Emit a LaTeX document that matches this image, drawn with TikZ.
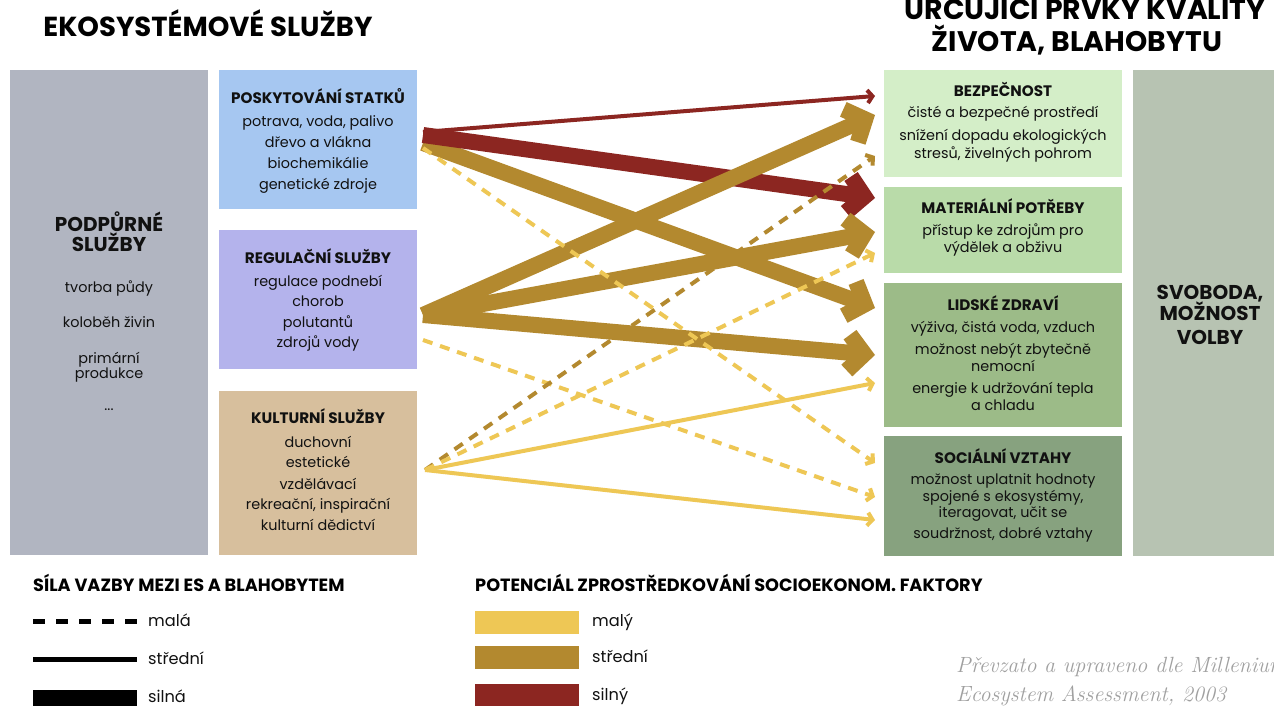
\documentclass[tikz,border=0pt]{standalone}
\usepackage{fontspec}
\setmainfont{Poppins}
\newfontfamily\credfont{Latin Modern Roman}
\usetikzlibrary{arrows.meta}
\definecolor{cgray}{HTML}{B1B5C1}
\definecolor{cblue}{HTML}{A6C7F1}
\definecolor{cpurp}{HTML}{B4B3EC}
\definecolor{ctan}{HTML}{D7BF9D}
\definecolor{cg1}{HTML}{D4EEC8}
\definecolor{cg2}{HTML}{B9DBA9}
\definecolor{cg3}{HTML}{9CBB88}
\definecolor{cg4}{HTML}{87A27F}
\definecolor{cfree}{HTML}{B7C3B2}
\definecolor{cred}{HTML}{8C2621}
\definecolor{cgold}{HTML}{B3892F}
\definecolor{cyel}{HTML}{EEC755}
\definecolor{ctxt}{HTML}{111111}
\definecolor{ccred}{HTML}{A0A0A0}
\begin{document}
\begin{tikzpicture}[x=1pt,y=-1pt,
  box/.style={inner sep=0pt,outer sep=0pt,anchor=north west},
  hd/.style={font=\bfseries\fontsize{15.2}{18}\selectfont,anchor=base,inner sep=0pt,text=ctxt},
  bd/.style={font=\fontsize{14.4}{17}\selectfont,anchor=base,inner sep=0pt,text=ctxt},
  bighd/.style={font=\bfseries\fontsize{20}{23}\selectfont,anchor=base,inner sep=0pt,text=ctxt},
  title/.style={font=\bfseries\fontsize{27.5}{30}\selectfont,anchor=base,inner sep=0pt,text=black},
  leghd/.style={font=\bfseries\fontsize{17.7}{20}\selectfont,anchor=base west,inner sep=0pt,text=black},
  legtx/.style={font=\fontsize{16.2}{19}\selectfont,anchor=base west,inner sep=0pt,text=ctxt},
  strong/.style={line width=16pt,-{Straight Barb[length=16pt,width=36pt]}},
  weakline/.style={line width=4pt,-{Straight Barb[length=5pt,width=13pt]}},
  dashline/.style={weakline,dash pattern=on 10pt off 8pt},
]
\useasboundingbox (0,0) rectangle (1274,706);
\fill[white] (0,0) rectangle (1274,706);

% titles
\node[title] (t1) at (208,37) {EKOSYSTÉMOVÉ SLUŽBY};
\node[title,font=\bfseries\fontsize{28.3}{31}\selectfont] (t2a) at (1085,20) {URČUJÍCÍ PRVKY KVALITY};
\node[title,font=\bfseries\fontsize{28.3}{31}\selectfont] (t2b) at (1077,52) {ŽIVOTA, BLAHOBYTU};

% left boxes
\node[box,fill=cgray,minimum width=198pt,minimum height=485pt] (sup) at (10,70) {};
\node[box,fill=cblue,minimum width=198pt,minimum height=139pt] (prov) at (219,70) {};
\node[box,fill=cpurp,minimum width=198pt,minimum height=139pt] (reg) at (219,230) {};
\node[box,fill=ctan,minimum width=198pt,minimum height=164pt] (cult) at (219,391) {};

% right boxes
\node[box,fill=cg1,minimum width=238pt,minimum height=107pt] (sec) at (884,70) {};
\node[box,fill=cg2,minimum width=238pt,minimum height=86pt] (mat) at (884,187) {};
\node[box,fill=cg3,minimum width=238pt,minimum height=144pt] (hea) at (884,283) {};
\node[box,fill=cg4,minimum width=238pt,minimum height=120pt] (soc) at (884,436) {};
\node[box,fill=cfree,minimum width=141pt,minimum height=486pt] (free) at (1133,70) {};

% supporting services text
\node[bighd] (s0) at (109,231) {PODPŮRNÉ};
\node[bighd] (s1) at (109,251) {SLUŽBY};
\node[bd] (s2) at (109,292) {tvorba půdy};
\node[bd] (s3) at (109,327) {koloběh živin};
\node[bd] (s4) at (109,363) {primární};
\node[bd] (s5) at (109,378) {produkce};
\node[bd] (s6) at (109,410) {...};

% provisioning
\node[hd] (p0) at (318,104) {POSKYTOVÁNÍ STATKŮ};
\node[bd] (p1) at (318,127) {potrava, voda, palivo};
\node[bd] (p2) at (318,147) {dřevo a vlákna};
\node[bd] (p3) at (318,168) {biochemikálie};
\node[bd] (p4) at (318,189) {genetické zdroje};

% regulating
\node[hd] (r0) at (318,263) {REGULAČNÍ SLUŽBY};
\node[bd] (r1) at (318,286) {regulace podnebí};
\node[bd] (r2) at (318,306) {chorob};
\node[bd] (r3) at (318,327) {polutantů};
\node[bd] (r4) at (318,347) {zdrojů vody};

% cultural
\node[hd] (c0) at (318,423) {KULTURNÍ SLUŽBY};
\node[bd] (c1) at (318,447) {duchovní};
\node[bd] (c2) at (318,467) {estetické};
\node[bd] (c3) at (318,489) {vzdělávací};
\node[bd] (c4) at (318,509) {rekreační, inspirační};
\node[bd] (c5) at (318,530) {kulturní dědictví};

% security
\node[hd] (b0) at (1003,97) {BEZPEČNOST};
\node[bd] (b1) at (1003,118) {čisté a bezpečné prostředí};
\node[bd] (b2) at (1003,141) {snížení dopadu ekologických};
\node[bd] (b3) at (1003,158) {stresů, živelných pohrom};

% material
\node[hd] (m0) at (1003,213) {MATERIÁLNÍ POTŘEBY};
\node[bd] (m1) at (1003,235) {přístup ke zdrojům pro};
\node[bd] (m2) at (1003,252) {výdělek a obživu};

% health
\node[hd] (h0) at (1003,310) {LIDSKÉ ZDRAVÍ};
\node[bd] (h1) at (1003,332) {výživa, čistá voda, vzduch};
\node[bd] (h2) at (1003,354) {možnost nebýt zbytečně};
\node[bd] (h3) at (1003,371) {nemocní};
\node[bd] (h4) at (1003,393) {energie k udržování tepla};
\node[bd] (h5) at (1003,410) {a chladu};

% social
\node[hd] (o0) at (1003,463) {SOCIÁLNÍ VZTAHY};
\node[bd] (o1) at (1003,484) {možnost uplatnit hodnoty};
\node[bd] (o2) at (1003,501) {spojené s ekosystémy,};
\node[bd] (o3) at (1003,517) {iteragovat, učit se};
\node[bd] (o4) at (1003,538) {soudržnost, dobré vztahy};

% freedom
\node[bighd] (f0) at (1210,299) {SVOBODA,};
\node[bighd] (f1) at (1210,320) {MOŽNOST};
\node[bighd] (f2) at (1210,344) {VOLBY};

% connector end points
\coordinate (P1) at (423,132);
\coordinate (P2) at (423,135);
\coordinate (P3) at (423,143);
\coordinate (P4) at (423,148);
\coordinate (R1) at (423,315);
\coordinate (R2) at (423,340);
\coordinate (K1) at (425,470);
\coordinate (SEC1) at (875,96);
\coordinate (SEC2) at (875,115);
\coordinate (SEC3) at (875,156);
\coordinate (MAT1) at (875,198);
\coordinate (MAT2) at (875,232);
\coordinate (MAT3) at (875,253);
\coordinate (HEA1) at (875,308);
\coordinate (HEA2) at (875,355);
\coordinate (HEA3) at (875,383);
\coordinate (SOC1) at (875,463);
\coordinate (SOC2) at (875,497);
\coordinate (SOC3) at (875,520);

% strong arrows
\draw[strong,cgold] (P3) -- (HEA1);
\draw[strong,cred] (P2) -- (MAT1);
\draw[strong,cgold] (R1) -- (SEC2);
\draw[strong,cgold] (R1) -- (MAT2);
\draw[strong,cgold] (R1) -- (HEA2);

% thin arrows
\draw[weakline,cred] (P1) -- (SEC1);
\draw[dashline,cyel] (P4) -- (SOC1);
\draw[dashline,cyel] (R2) -- (SOC2);
\draw[dashline,cgold] (K1) -- (SEC3);
\draw[dashline,cyel] (K1) -- (MAT3);
\draw[weakline,cyel] (K1) -- (HEA3);
\draw[weakline,cyel] (K1) -- (SOC3);

% legend left
\node[leghd] (lg1) at (33,591) {SÍLA VAZBY MEZI ES A BLAHOBYTEM};
\coordinate (la1) at (33,621); \coordinate (lb1) at (137,621);
\coordinate (la2) at (33,659); \coordinate (lb2) at (137,659);
\draw[line width=5pt,dash pattern=on 12pt off 11pt] (la1) -- (lb1);
\draw[line width=5pt] (la2) -- (lb2);
\node[box,fill=black,minimum width=104pt,minimum height=16pt] (lsil) at (33,690) {};
\node[legtx] (lt1) at (148,626) {malá};
\node[legtx] (lt2) at (148,664) {střední};
\node[legtx] (lt3) at (148,702) {silná};

% legend right
\node[leghd] (lg2) at (475,591) {POTENCIÁL ZPROSTŘEDKOVÁNÍ SOCIOEKONOM. FAKTORY};
\node[box,fill=cyel,minimum width=104pt,minimum height=23pt] (ly) at (475,611) {};
\node[box,fill=cgold,minimum width=104pt,minimum height=23pt] (lgd) at (475,646) {};
\node[box,fill=cred,minimum width=104pt,minimum height=22pt] (lr) at (475,684) {};
\node[legtx] (lu1) at (592,626) {malý};
\node[legtx] (lu2) at (592,662) {střední};
\node[legtx] (lu3) at (592,700) {silný};

% credit
\node[font=\credfont\itshape\fontsize{22}{26}\selectfont,text=ccred,anchor=base west,inner sep=0pt] (cr1) at (956,672) {Převzato a upraveno dle Millenium};
\node[font=\credfont\itshape\fontsize{22}{26}\selectfont,text=ccred,anchor=base west,inner sep=0pt] (cr2) at (956,701) {Ecosystem Assessment, 2003};
\end{tikzpicture}
\end{document}
